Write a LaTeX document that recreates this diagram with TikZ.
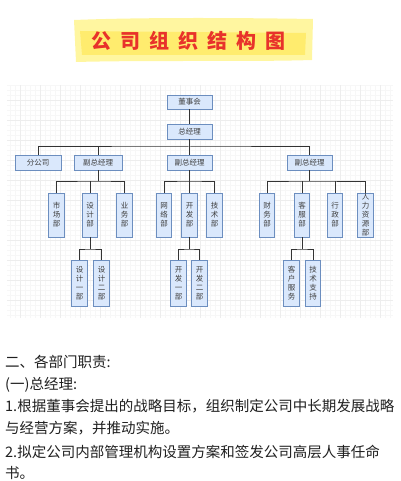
\documentclass[tikz,border=0pt]{standalone}
\usepackage{fontspec}
\newfontfamily\cjk{Noto Sans CJK SC}
\definecolor{boxfill}{HTML}{DAE8FC}
\definecolor{boxline}{HTML}{6C8EBF}
\definecolor{linec}{HTML}{333333}
\definecolor{titlered}{HTML}{E8322B}
\definecolor{hlout}{HTML}{FFF6A0}
\definecolor{hlin}{HTML}{FFEC6E}
\definecolor{gridmin}{HTML}{F7F7F7}
\definecolor{gridmaj}{HTML}{EDEDED}
\begin{document}
\begin{tikzpicture}[x=1pt,y=-1pt,
  hbox/.style={draw=boxline,fill=boxfill,line width=0.8pt,minimum height=15pt,inner sep=0pt,
    font=\cjk\fontsize{7.5}{9}\selectfont,text=black!75},
  vbox/.style={draw=boxline,fill=boxfill,line width=0.8pt,minimum width=15.5pt,inner sep=0pt,
    align=center,font=\cjk\fontsize{7.5}{9}\selectfont,text=black!75},
  conn/.style={draw=linec,line width=1pt},
  para/.style={anchor=base west,inner sep=0pt,font=\cjk\fontsize{14.5}{16}\selectfont,text=black!88}]
\useasboundingbox (0,0) rectangle (400,481);
% title highlight
\fill[hlout] (74,20) .. controls (150,17) and (250,18) .. (313,19) -- (312,60) .. controls (250,62) and (150,60) .. (76,62) -- cycle;
\fill[hlin] (80,31) -- (306,33) -- (305,55) -- (82,55) -- cycle;
\node[font=\cjk\bfseries\fontsize{20}{22}\selectfont,text=titlered,inner sep=0pt] (title) at (188,41)
  {公\hspace{9pt}司\hspace{9pt}组\hspace{9pt}织\hspace{9pt}结\hspace{9pt}构\hspace{9pt}图};
% grid
\draw[gridmin,line width=0.4pt,step=5pt] (7,85) grid (393,318);
\draw[gridmaj,line width=0.5pt,step=20pt] (7,85) grid (393,318);
% top
\node[hbox,minimum width=45pt,minimum height=14pt] (dsh) at (189.5,102) {董事会};
\node[hbox,minimum width=45pt] (zjl) at (189.5,131.5) {总经理};
\node[hbox,minimum width=46pt] (fgs) at (38,162.5) {分公司};
\node[hbox,minimum width=48pt] (f1) at (98,162.5) {副总经理};
\node[hbox,minimum width=45pt] (f2) at (189.5,162.5) {副总经理};
\node[hbox,minimum width=45pt] (f3) at (309.5,162.5) {副总经理};
% departments
\foreach \n/\x/\t in {scb/56.5/市\\场\\部, sjb/90/设\\计\\部, ywb/124.5/业\\务\\部,
  wlb/164/网\\络\\部, kfb/189.5/开\\发\\部, jsb/214.5/技\\术\\部,
  cwb/267/财\\务\\部, kefb/302/客\\服\\部, xzb/335/行\\政\\部, rlb/365.5/人\\力\\资\\源\\部}
  \node[vbox,minimum height=44pt] (\n) at (\x,215) {\t};
\foreach \n/\x/\t in {sj1/79.5/设\\计\\一\\部, sj2/101.5/设\\计\\二\\部,
  kf1/178.5/开\\发\\一\\部, kf2/199.5/开\\发\\二\\部,
  khfw/291.5/客\\户\\服\\务, jszc/313/技\\术\\支\\持}
  \node[vbox,minimum height=46pt] (\n) at (\x,283) {\t};
% junction coordinates
\coordinate (j0) at (189.5,147);
\coordinate (j1) at (98,181);
\coordinate (j2) at (189.5,181);
\coordinate (j3) at (309.5,181);
\coordinate (k1) at (90,249);
\coordinate (k2) at (189.5,249);
\coordinate (k3) at (302,249);
% connectors
\draw[conn] (dsh) -- (zjl);
\draw[conn] (zjl) -- (f2);
\draw[conn] (fgs.north) |- (j0) -| (f3.north);
\draw[conn] (f1.north) -- (f1.north |- j0);
\draw[conn] (f1.south) -- (j1);
\draw[conn] (scb.north) |- (j1) -| (ywb.north);
\draw[conn] (sjb.north) -- (sjb.north |- j1);
\draw[conn] (f2.south) -- (j2);
\draw[conn] (wlb.north) |- (j2) -| (jsb.north);
\draw[conn] (kfb.north) -- (j2);
\draw[conn] (f3.south) -- (j3);
\draw[conn] (cwb.north) |- (j3) -| (rlb.north);
\draw[conn] (kefb.north) -- (kefb.north |- j3);
\draw[conn] (xzb.north) -- (xzb.north |- j3);
\draw[conn] (sjb.south) -- (k1);
\draw[conn] (sj1.north) |- (k1) -| (sj2.north);
\draw[conn] (kfb.south) -- (k2);
\draw[conn] (kf1.north) |- (k2) -| (kf2.north);
\draw[conn] (kefb.south) -- (k3);
\draw[conn] (khfw.north) |- (k3) -| (jszc.north);
% text
\node[para] (p1) at (5,367.5) {二、各部门职责:};
\node[para] (p2) at (5,389) {(一)总经理:};
\node[para] (p3) at (5,411.5) {1.根据董事会提出的战略目标，组织制定公司中长期发展战略};
\node[para] (p4) at (5,433) {与经营方案，并推动实施。};
\node[para] (p5) at (5,457) {2.拟定公司内部管理机构设置方案和签发公司高层人事任命};
\node[para] (p6) at (5,478.5) {书。};
\end{tikzpicture}
\end{document}
